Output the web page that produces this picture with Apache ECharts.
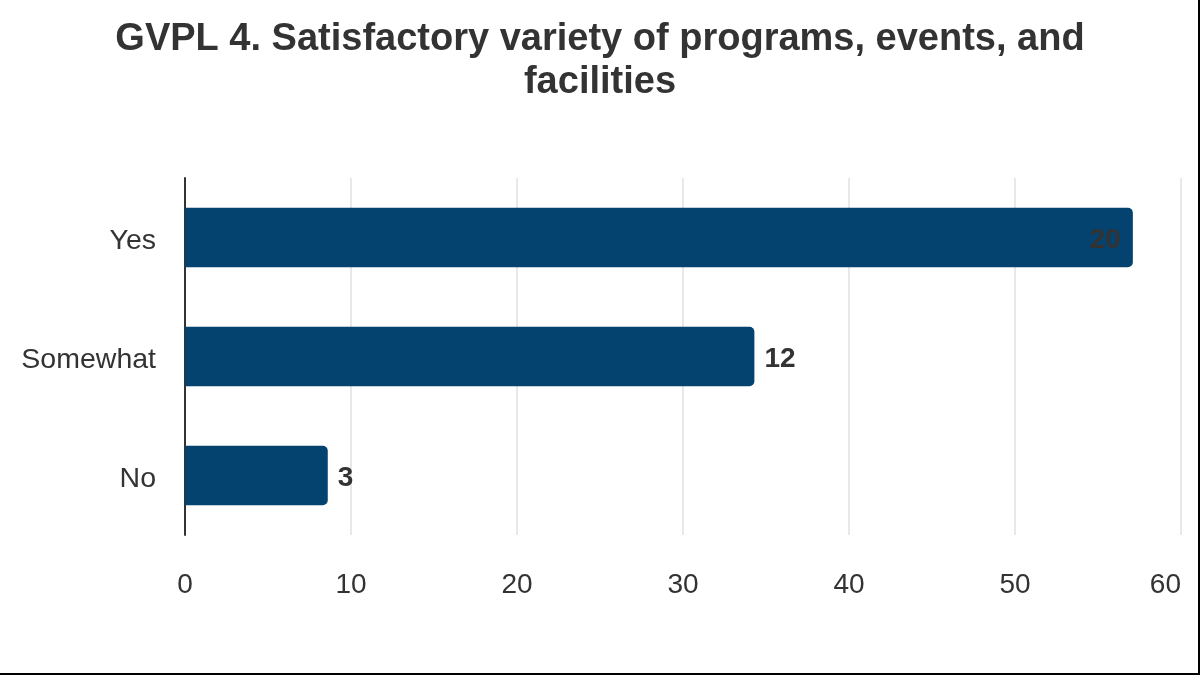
<!DOCTYPE html>
<html><head><meta charset="utf-8">
<script src="https://cdn.jsdelivr.net/npm/echarts@6/dist/echarts.min.js"></script>
<style>html,body{margin:0;padding:0;background:#fff}#c{width:1200px;height:675px}</style>
</head><body><div id="c"></div>
<script>
const categories = ['No', 'Somewhat', 'Yes'];
const percentValues = [8.6, 34.3, 57.1];
const countLabels = [3, 12, 20];
const xTicks = [0, 10, 20, 30, 40, 50, 60];

const chart = echarts.init(document.getElementById('c'), null, {renderer: 'canvas'});
const font = 'Liberation Sans, Arial, sans-serif';
chart.setOption({
  backgroundColor: '#fff',
  animation: false,
  title: {
    text: 'GVPL 4. Satisfactory variety of programs, events, and\nfacilities',
    left: 'center', top: 13,
    textStyle: {fontFamily: font, fontSize: 38, fontWeight: 'bold', color: '#333', lineHeight: 43}
  },
  grid: {left: 185, right: 19, top: 178, bottom: 140, containLabel: false},
  xAxis: {
    type: 'value', min: 0, max: 60, interval: 10,
    axisLine: {show: false}, axisTick: {show: false},
    splitLine: {show: true, lineStyle: {color: '#e0e0e0', width: 1.5}},
    axisLabel: {fontFamily: font, fontSize: 28, color: '#333', margin: 36, alignMaxLabel: 'right',
      formatter: v => xTicks.includes(v) ? String(v) : ''}
  },
  yAxis: {
    type: 'category', data: categories,
    axisLine: {show: true, lineStyle: {color: '#333', width: 2}},
    axisTick: {show: false},
    axisLabel: {margin: 29,
      formatter: v => '{a|' + v + '}',
      rich: {a: {fontFamily: font, fontSize: 28.5, color: '#333', padding: [7, 0, 0, 0]}}}
  },
  series: [{
    type: 'bar', barWidth: '50%',
    data: percentValues.map((v, i) => ({
      value: v,
      label: i === 2 ? {position: 'insideRight', distance: 12} : {}
    })),
    itemStyle: {color: '#04426f', borderRadius: [0, 5, 5, 0]},
    label: {
      show: true, position: 'right', distance: 10, offset: [0, 3],
      fontFamily: font, fontSize: 28, fontWeight: 'bold', color: '#333',
      formatter: p => String(countLabels[p.dataIndex])
    }
  }],
  graphic: [
    {type: 'line', shape: {x1: 0, y1: 674, x2: 1200, y2: 674}, style: {stroke: '#000', lineWidth: 2}},
    {type: 'line', shape: {x1: 1199, y1: 0, x2: 1199, y2: 675}, style: {stroke: '#000', lineWidth: 2}}
  ]
});
</script></body></html>
